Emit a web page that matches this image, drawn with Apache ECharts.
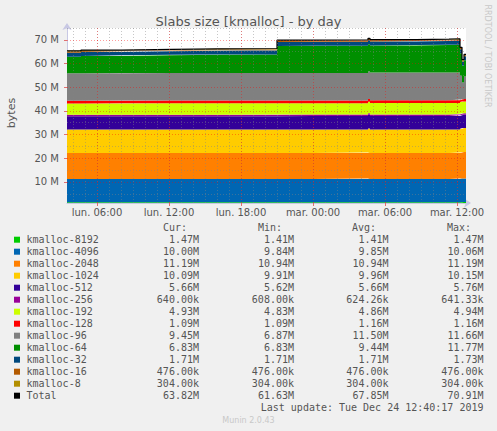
<!DOCTYPE html>
<html><head><meta charset="utf-8">
<script src="https://cdn.jsdelivr.net/npm/echarts@6/dist/echarts.min.js"></script>
<style>html,body{margin:0;padding:0;background:#F0F0F0;}#c{width:497px;height:431px;}</style>
</head><body><div id="c"></div>
<script>
// ---------- DATA ----------
const times = ['2019-12-23T03:30','2019-12-23T04:40','2019-12-23T08:05','2019-12-23T12:15','2019-12-23T16:05',
  '2019-12-23T21:00','2019-12-24T00:00','2019-12-24T04:35','2019-12-24T04:45','2019-12-24T08:35',
  '2019-12-24T11:20','2019-12-24T12:15','2019-12-24T12:25','2019-12-24T12:35','2019-12-24T12:45'];
const k8192 = [1.41,1.41,1.41,1.41,1.41,1.41,1.41,1.41,1.41,1.41,1.41,1.45,1.47,1.47,1.47];
const k4096 = [9.84,9.84,9.84,9.84,9.84,9.84,9.84,10.06,9.84,9.84,9.84,9.95,10.00,10.00,10.00];
const k2048 = [10.94,10.94,10.94,10.94,10.94,10.94,10.94,10.94,10.94,10.94,10.94,11.05,11.19,11.19,11.19];
const k1024 = [9.91,9.91,9.91,9.91,9.91,9.98,9.98,10.15,10.00,10.00,10.00,10.05,10.09,10.09,10.09];
const k512  = [5.62,5.62,5.64,5.64,5.64,5.64,5.64,5.76,5.68,5.68,5.68,5.66,5.66,5.66,5.66];
const k256  = [0.608,0.608,0.608,0.608,0.608,0.625,0.625,0.641,0.635,0.635,0.635,0.640,0.640,0.640,0.640];
const k192  = [4.83,4.83,4.84,4.84,4.84,4.84,4.84,4.94,4.86,4.86,4.86,4.90,4.93,4.93,4.93];
const k128  = [1.16,1.16,1.16,1.16,1.16,1.16,1.16,1.16,1.16,1.16,1.16,1.12,1.09,1.09,1.09];
const k96   = [11.55,11.55,11.60,11.60,11.60,11.60,11.60,11.60,11.66,11.66,11.66,10.00,6.87,9.45,9.45];
const k64   = [7.00,7.30,7.50,7.75,7.90,11.35,11.45,11.50,11.45,11.60,11.77,9.50,7.20,6.83,6.83];
const k32   = [1.71,1.71,1.71,1.71,1.71,1.71,1.71,1.71,1.71,1.71,1.73,1.72,1.71,1.71,1.71];
const k16   = [0.476,0.476,0.476,0.476,0.476,0.476,0.476,0.476,0.476,0.476,0.476,0.476,0.476,0.476,0.476];
const k8    = [0.304,0.304,0.304,0.304,0.304,0.304,0.304,0.304,0.304,0.304,0.304,0.304,0.304,0.304,0.304];

const seriesNames = ['kmalloc-8192','kmalloc-4096','kmalloc-2048','kmalloc-1024','kmalloc-512','kmalloc-256',
  'kmalloc-192','kmalloc-128','kmalloc-96','kmalloc-64','kmalloc-32','kmalloc-16','kmalloc-8'];
const seriesValues = [k8192,k4096,k2048,k1024,k512,k256,k192,k128,k96,k64,k32,k16,k8];

const xTickTimes  = ['2019-12-23T06:00','2019-12-23T12:00','2019-12-23T18:00','2019-12-24T00:00','2019-12-24T06:00','2019-12-24T12:00'];
const xTickLabels = ['lun. 06:00','lun. 12:00','lun. 18:00','mar. 00:00','mar. 06:00','mar. 12:00'];
const yTickValues = [10,20,30,40,50,60,70];
const yTickLabels = ['10 M','20 M','30 M','40 M','50 M','60 M','70 M'];
const xStart = '2019-12-23T03:30', xEnd = '2019-12-24T12:45';
const yMin = 1.1, yMax = 75;

const legendNames = seriesNames.concat(['Total']);
const curVals = ['1.47M','10.00M','11.19M','10.09M','5.66M','640.00k','4.93M','1.09M','9.45M','6.83M','1.71M','476.00k','304.00k','63.82M'];
const minVals = ['1.41M','9.84M','10.94M','9.91M','5.62M','608.00k','4.83M','1.09M','6.87M','6.83M','1.71M','476.00k','304.00k','61.63M'];
const avgVals = ['1.41M','9.85M','10.94M','9.96M','5.66M','624.26k','4.86M','1.16M','11.50M','9.44M','1.71M','476.00k','304.00k','67.85M'];
const maxVals = ['1.47M','10.06M','11.19M','10.15M','5.76M','641.33k','4.94M','1.16M','11.66M','11.77M','1.73M','476.00k','304.00k','70.91M'];
const lastUpdate = 'Last update: Tue Dec 24 12:40:17 2019';

// ---------- STYLE ----------
const colors = ['#00CC00','#0066B3','#FF8000','#FFCC00','#330099','#990099','#CCFF00','#FF0000','#808080','#008F00','#00487D','#B35A00','#B38F00','#000000'];
const ts = s => Date.parse(s + ':00Z');
const T = times.map(ts);
const xTickVals = xTickTimes.map(ts);
const xMin = ts(xStart), xMax = ts(xEnd);
const txt = '#555555';
const axisCol = '#C8C8E4';
const majorCol = 'rgba(255,0,0,0.38)';
const minorCol = 'rgba(130,130,130,0.45)';

const totals = T.map((_, j) => seriesValues.reduce((s, arr) => s + arr[j], 0));

// value first so that the stacked dimension is the value (y) dimension
const series = seriesValues.map((vals, i) => ({
  name: seriesNames[i], type: 'line', stack: 'all', step: 'end', symbol: 'none',
  encode: { y: 0, x: 1 },
  lineStyle: { width: 0 }, areaStyle: { color: colors[i], opacity: 1 }, itemStyle: { color: colors[i] },
  data: vals.map((v, j) => [v, T[j]]), z: 2
}));

const gridLines = [];
for (let t = Math.ceil(xMin / 3600000) * 3600000; t <= xMax; t += 3600000) {
  gridLines.push({ xAxis: t, lineStyle: { color: minorCol, type: [1, 2], width: 1 } });
}
for (let v = 5; v <= yMax; v += 10) {
  gridLines.push({ yAxis: v, lineStyle: { color: minorCol, type: [1, 2], width: 1 } });
}
xTickVals.forEach(t => gridLines.push({ xAxis: t, lineStyle: { color: majorCol, type: [1, 2], width: 1 } }));
yTickValues.forEach(v => gridLines.push({ yAxis: v, lineStyle: { color: majorCol, type: [1, 2], width: 1 } }));

series.push({
  name: 'Total', type: 'line', step: 'end', symbol: 'none', z: 4,
  encode: { y: 0, x: 1 },
  lineStyle: { color: '#000', width: 1.2 }, itemStyle: { color: '#000' },
  data: totals.map((v, j) => [v, T[j]]),
  markLine: { silent: true, symbol: ['none', 'none'], label: { show: false }, animation: false, data: gridLines }
});

function nearestLabel(v, vals, labels) {
  let best = 0, bd = Infinity;
  vals.forEach((x, i) => { const d = Math.abs(x - v); if (d < bd) { bd = d; best = i; } });
  return labels[best];
}

// ---------- LEGEND TABLE ----------
const mono = '10px "DejaVu Sans Mono"';
const graphic = [];
graphic.push({ type: 'text', x: 11, y: 113, rotation: Math.PI / 2,
  style: { text: 'bytes', font: '11px "DejaVu Sans"', fill: txt, align: 'center', verticalAlign: 'middle' } });
graphic.push({ type: 'text', x: 487, y: 56, rotation: -Math.PI / 2,
  style: { text: 'RRDTOOL / TOBI OETIKER', font: '8px "DejaVu Sans"', fill: '#C8C8C8', align: 'center', verticalAlign: 'middle' } });
[['Cur:', 187], ['Min:', 282], ['Avg:', 376], ['Max:', 471]].forEach(h => graphic.push({
  type: 'text', x: h[1], y: 227.5, style: { text: h[0], font: mono, fill: txt, align: 'right', verticalAlign: 'middle' } }));
legendNames.forEach((n, i) => {
  const y = 239.7 + 12 * i;
  graphic.push({ type: 'rect', shape: { x: 14, y: y - 3, width: 6, height: 6 }, style: { fill: colors[i] } });
  graphic.push({ type: 'text', x: 26.5, y: y, style: { text: n, font: mono, fill: txt, align: 'left', verticalAlign: 'middle' } });
  [[curVals, 199], [minVals, 294], [avgVals, 388.5], [maxVals, 483.5]].forEach(c => graphic.push({
    type: 'text', x: c[1], y: y, style: { text: c[0][i], font: mono, fill: txt, align: 'right', verticalAlign: 'middle' } }));
});
graphic.push({ type: 'text', x: 483.5, y: 407.5, style: { text: lastUpdate, font: mono, fill: txt, align: 'right', verticalAlign: 'middle' } });
graphic.push({ type: 'text', x: 248.5, y: 420.5, style: { text: 'Munin 2.0.43', font: '8px "DejaVu Sans"', fill: '#C8C8C8', align: 'center', verticalAlign: 'middle' } });

const chart = echarts.init(document.getElementById('c'), null, { renderer: 'svg' });
chart.setOption({
  animation: false,
  backgroundColor: '#F0F0F0',
  title: { text: 'Slabs size [kmalloc] - by day', left: 'center', top: 10,
    textStyle: { color: txt, fontSize: 13, fontWeight: 'normal', fontFamily: 'DejaVu Sans' } },
  grid: { left: 67, right: 31, top: 28, bottom: 228, show: true, backgroundColor: '#FFFFFF', borderWidth: 0, containLabel: false },
  xAxis: {
    type: 'value', min: xMin, max: xMax, scale: true,
    axisLine: { show: true, lineStyle: { color: axisCol, width: 1 }, symbol: ['none', 'arrow'], symbolSize: [7, 7], symbolOffset: [0, 5] },
    axisTick: { show: true, customValues: xTickVals, length: 3, lineStyle: { color: '#E07070' } },
    axisLabel: { customValues: xTickVals, formatter: v => nearestLabel(v, xTickVals, xTickLabels),
      color: txt, fontSize: 10, fontFamily: 'DejaVu Sans', margin: 4, hideOverlap: false },
    splitLine: { show: false }
  },
  yAxis: {
    type: 'value', min: yMin, max: yMax,
    axisLine: { show: true, lineStyle: { color: axisCol, width: 1 }, symbol: ['none', 'arrow'], symbolSize: [7, 7], symbolOffset: [0, 5] },
    axisTick: { show: true, customValues: yTickValues, length: 3, lineStyle: { color: '#E07070' } },
    axisLabel: { customValues: yTickValues, formatter: v => nearestLabel(v, yTickValues, yTickLabels),
      color: txt, fontSize: 10, fontFamily: 'DejaVu Sans', margin: 8 },
    splitLine: { show: false }
  },
  series: series,
  graphic: graphic
});
</script>
</body></html>
